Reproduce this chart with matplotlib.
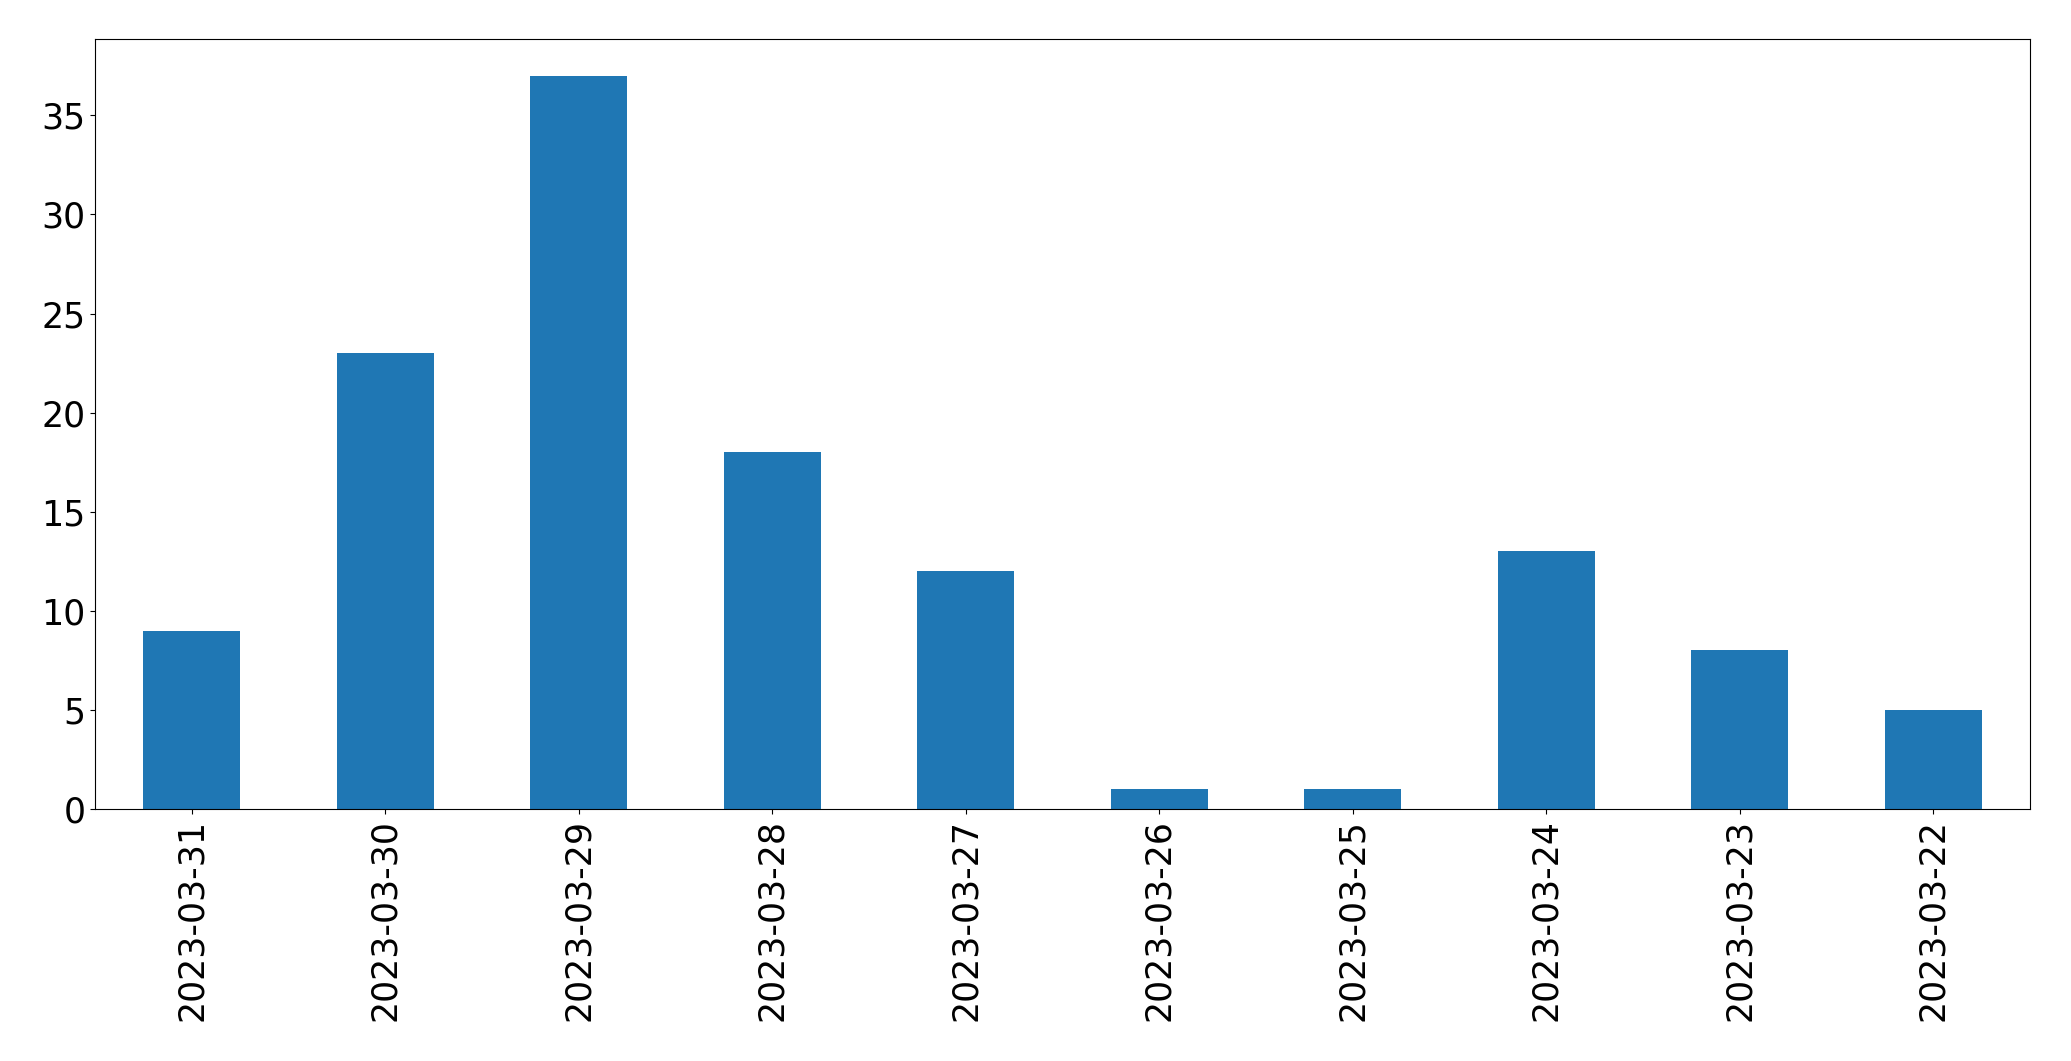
import matplotlib
matplotlib.use("Agg")
import matplotlib.pyplot as plt

dates = ["2023-03-31", "2023-03-30", "2023-03-29", "2023-03-28", "2023-03-27",
         "2023-03-26", "2023-03-25", "2023-03-24", "2023-03-23", "2023-03-22"]
counts = [9, 23, 37, 18, 12, 1, 1, 13, 8, 5]

fig = plt.figure(figsize=(20.71, 10.61), dpi=100)
ax = fig.add_axes([95/2071, 1 - 809/1061, (2030-95)/2071, (809-39)/1061])
x = list(range(len(dates)))
ax.bar(x, counts, width=0.5, color="#1f77b4")
ax.set_xlim(-0.5, len(dates) - 0.5)
ax.set_ylim(0, 38.85)
ax.set_xticks(x)
ax.set_xticklabels(dates, rotation=90)
ax.set_yticks([0, 5, 10, 15, 20, 25, 30, 35])
ax.tick_params(labelsize=25)
fig.savefig("out.png", dpi=100)
